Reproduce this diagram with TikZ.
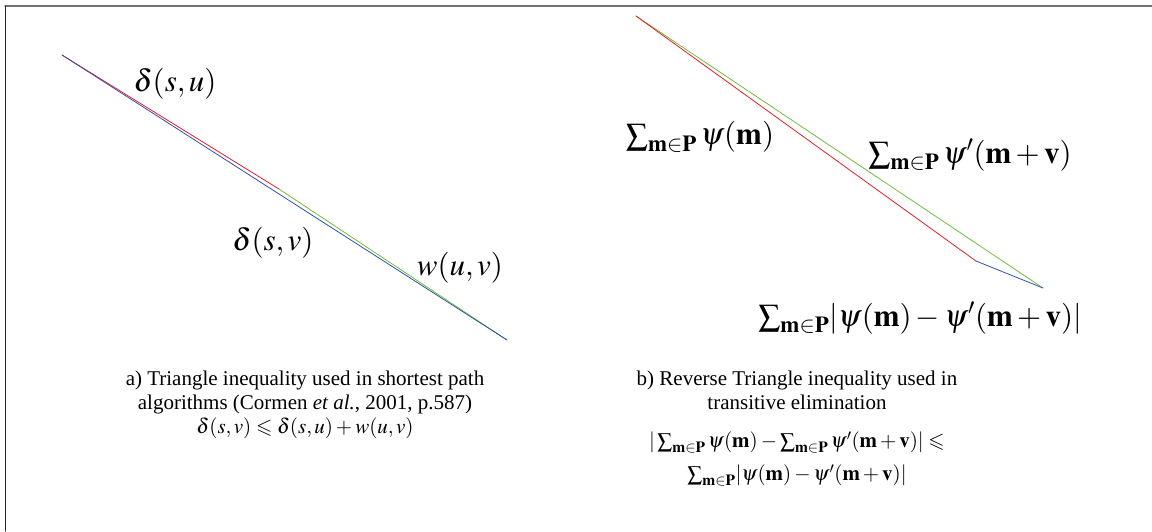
\documentclass[tikz,border=0pt]{standalone}
\usepackage{amssymb}
\usepackage{mathptmx}
\usepackage[no-math]{fontspec}
\setmainfont{Liberation Serif}
\definecolor{tred}{RGB}{230,30,40}
\definecolor{tgreen}{RGB}{110,190,60}
\definecolor{tblue}{RGB}{50,80,175}
\begin{document}
\begin{tikzpicture}[x=1pt, y=-1pt, line cap=round, line join=round,
	edge/.style={line width=0.8pt},
	lbl/.style={font=\fontsize{31}{35}\selectfont, inner sep=0pt},
	capt/.style={font=\fontsize{21}{24}\selectfont, align=center, inner sep=0pt, anchor=north}]
	\useasboundingbox (0,0) rectangle (1152,531);
	% frame
	\draw[line width=1.5pt, black!55] (5,6) -- (1152,6);
	\draw[line width=1pt, black!85] (5,6) -- (5,531);
	\begin{scope}
		\coordinate (s) at (62,55);
		\coordinate (u) at (279,189);
		\coordinate (v) at (507,340);
		\draw[edge, tgreen] (u) -- (v);
		\draw[edge, tred] (s) -- (u);
		\draw[edge, tblue] (s) -- (v);
		\node[lbl] (su) at (175,84) {$\delta(s,u)$};
		\node[lbl] (sv) at (273,243) {$\delta(s,v)$};
		\node[lbl] (uv) at (460,268) {$w(u,v)$};
		\node[capt] (capA) at (305,371) {a) Triangle inequality used in shortest path\\
			algorithms (Cormen \emph{et al.}, 2001, p.587)\\
			$\delta(s,v) \leqslant \delta(s,u) + w(u,v)$};
	\end{scope}
	\begin{scope}
		\coordinate (s2) at (636,16);
		\coordinate (u2) at (976,261);
		\coordinate (v2) at (1043,288);
		\draw[edge, tgreen] (s2) -- (v2);
		\draw[edge, tred] (s2) -- (u2);
		\draw[edge, tblue] (u2) -- (v2);
		\node[lbl] (sm) at (700,137) {$\sum_{\mathbf{m}\in\mathbf{P}} \psi(\mathbf{m})$};
		\node[lbl] (smv) at (970,155) {$\sum_{\mathbf{m}\in\mathbf{P}} \psi'(\mathbf{m}+\mathbf{v})$};
		\node[lbl] (sdiff) at (920,318) {$\sum_{\mathbf{m}\in\mathbf{P}}\!|\psi(\mathbf{m}) - \psi'(\mathbf{m}+\mathbf{v})|$};
		\node[capt] (capB) at (797,371) {b) Reverse Triangle inequality used in\\
			transitive elimination\\[14pt]
			$|\sum_{\mathbf{m}\in\mathbf{P}} \psi(\mathbf{m}) - \sum_{\mathbf{m}\in\mathbf{P}} \psi'(\mathbf{m}+\mathbf{v})| \leqslant$\\[9pt]
			$\sum_{\mathbf{m}\in\mathbf{P}}\!|\psi(\mathbf{m}) - \psi'(\mathbf{m}+\mathbf{v})|$};
	\end{scope}
\end{tikzpicture}
\end{document}
